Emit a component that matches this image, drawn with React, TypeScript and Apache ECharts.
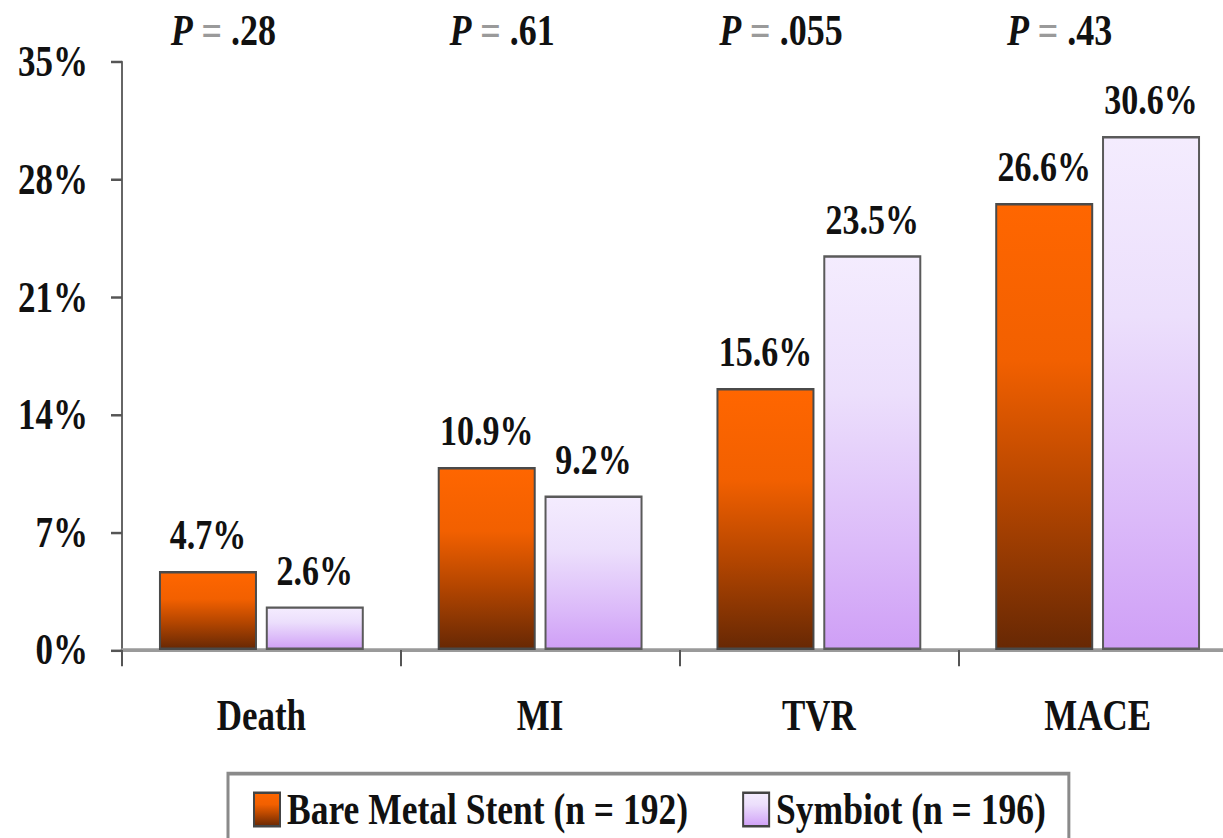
import React, { useEffect, useRef } from 'react';
import * as echarts from 'echarts';

// Outcome categories and event rates (%)
const categories = ['Death', 'MI', 'TVR', 'MACE'];
const bareMetalStent = [4.7, 10.9, 15.6, 26.6];
const symbiot = [2.6, 9.2, 23.5, 30.6];
const pValues = ['.28', '.61', '.055', '.43'];
const seriesNames = ['Bare Metal Stent (n = 192)', 'Symbiot (n = 196)'];

// Value axis range
const yMin = 0;
const yMax = 35;
const yStep = 7;

const FONT = "'Liberation Serif', 'Times New Roman', serif";
const VIEW_W = 1223;
const CHART_W = 1260; // drawing surface runs past the visible edge; the last group's band is clipped
const CHART_H = 676;
const STRETCH = 838 / CHART_H;

const orangeFill = new echarts.graphic.LinearGradient(0, 0, 0, 1, [
  { offset: 0, color: '#ff6600' },
  { offset: 0.35, color: '#f26000' },
  { offset: 0.65, color: '#b54600' },
  { offset: 1, color: '#672804' },
]);

const lavenderFill = new echarts.graphic.LinearGradient(0, 0, 0, 1, [
  { offset: 0, color: '#f4ecfe' },
  { offset: 0.35, color: '#ecdffc' },
  { offset: 0.75, color: '#dbb9f9' },
  { offset: 1, color: '#cf9ff6' },
]);

const valueLabel = {
  show: true,
  position: 'top',
  distance: 12,
  formatter: (p: any) => `${Number(p.value).toFixed(1)}%`,
  fontFamily: FONT,
  fontSize: 34,
  lineHeight: 34,
  fontWeight: 'bold',
  color: '#111',
};

export default function App() {
  const ref = useRef<HTMLDivElement>(null);

  useEffect(() => {
    if (!ref.current) return;
    const chart = echarts.init(ref.current, null, { renderer: 'svg' });

    chart.setOption({
      animation: false,
      backgroundColor: '#ffffff',
      grid: { left: 122, top: 50, width: 1115, height: 474.4, containLabel: false },
      legend: {
        data: seriesNames,
        left: 228,
        top: 624,
        orient: 'horizontal',
        icon: 'rect',
        itemWidth: 26,
        itemHeight: 27,
        itemGap: 54,
        padding: [11, 23, 60, 25],
        borderColor: '#8a8a8a',
        borderWidth: 3,
        backgroundColor: '#ffffff',
        itemStyle: { borderColor: '#444', borderWidth: 2 },
        textStyle: {
          fontFamily: FONT,
          fontSize: 35.5,
          lineHeight: 36,
          fontWeight: 'bold',
          color: '#111',
          padding: [0, 0, 0, 2],
        },
      },
      xAxis: {
        type: 'category',
        data: categories,
        axisLine: { show: true, lineStyle: { color: '#9a9a9a', width: 3 } },
        axisTick: { show: true, alignWithLabel: false, length: 13, lineStyle: { color: '#555', width: 2 } },
        axisLabel: {
          margin: 36,
          fontFamily: FONT,
          fontSize: 35,
          lineHeight: 34,
          fontWeight: 'bold',
          color: '#111',
        },
        splitLine: { show: false },
      },
      yAxis: {
        type: 'value',
        min: yMin,
        max: yMax,
        interval: yStep,
        axisLine: { show: true, lineStyle: { color: '#666', width: 2 } },
        axisTick: { show: true, inside: false, length: 11, lineStyle: { color: '#555', width: 2 } },
        axisLabel: {
          margin: 34,
          formatter: '{value}%',
          fontFamily: FONT,
          fontSize: 35,
          lineHeight: 34,
          fontWeight: 'bold',
          color: '#111',
        },
        splitLine: { show: false },
      },
      series: [
        {
          name: seriesNames[0],
          type: 'bar',
          data: bareMetalStent,
          barWidth: 98,
          barGap: '9%',
          itemStyle: { color: orangeFill, borderColor: '#4a4a4a', borderWidth: 2 },
          label: valueLabel,
        },
        {
          name: seriesNames[1],
          type: 'bar',
          data: symbiot,
          barWidth: 98,
          barGap: '9%',
          itemStyle: { color: lavenderFill, borderColor: '#5a5a5a', borderWidth: 2 },
          label: valueLabel,
        },
      ],
    });

    // P-value captions above each category group
    const graphic = categories.map((cat, i) => {
      const cx = chart.convertToPixel({ xAxisIndex: 0 }, cat) as number;
      return {
        type: 'text',
        x: cx - 38,
        y: 24,
        style: {
          text: `{p|P}{e| = }{v|${pValues[i]}}`,
          align: 'center',
          verticalAlign: 'middle',
          fontFamily: FONT,
          fontSize: 36,
          fontWeight: 'bold',
          fill: '#111',
          rich: {
            p: { fontFamily: FONT, fontSize: 36, fontWeight: 'bold', fontStyle: 'italic', fill: '#111' },
            e: { fontFamily: FONT, fontSize: 36, fontWeight: 'bold', fill: '#9a9a9a' },
            v: { fontFamily: FONT, fontSize: 36, fontWeight: 'bold', fill: '#111' },
          },
        },
      };
    });
    chart.setOption({ graphic });

    return () => chart.dispose();
  }, []);

  return (
    <div
      style={{
        position: 'absolute',
        left: 0,
        top: 0,
        width: VIEW_W,
        height: 838,
        overflow: 'hidden',
        background: '#fff',
      }}
    >
      <div
        ref={ref}
        style={{
          width: CHART_W,
          height: CHART_H,
          transform: `scaleY(${STRETCH})`,
          transformOrigin: '0 0',
        }}
      />
    </div>
  );
}
